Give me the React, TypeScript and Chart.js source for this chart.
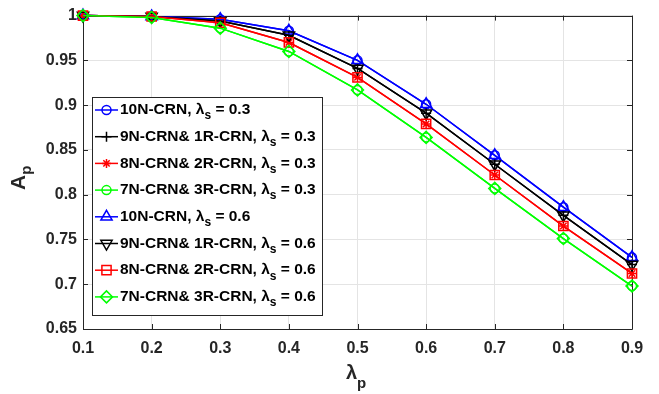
import React, { useEffect, useRef } from "react";
import { Chart, registerables } from "chart.js";
import { drawPoint } from "chart.js/helpers";

Chart.register(...registerables);

// ---- data ----
const lambdaP = [0.1, 0.2, 0.3, 0.4, 0.5, 0.6, 0.7, 0.8, 0.9];
const xTickValues = [0.1, 0.2, 0.3, 0.4, 0.5, 0.6, 0.7, 0.8, 0.9];
const yTickValues = [0.65, 0.7, 0.75, 0.8, 0.85, 0.9, 0.95, 1];

const ap10N_ls03 = [1.0, 0.999, 0.996, 0.983, 0.95, 0.901, 0.844, 0.786, 0.73];
const ap9N1R_ls03 = [1.0, 0.999, 0.994, 0.978, 0.941, 0.891, 0.834, 0.777, 0.722];
const ap8N2R_ls03 = [1.0, 0.999, 0.992, 0.97, 0.931, 0.879, 0.822, 0.765, 0.712];
const ap7N3R_ls03 = [1.0, 0.998, 0.986, 0.96, 0.917, 0.864, 0.807, 0.751, 0.698];
const ap10N_ls06 = [1.0, 0.999, 0.996, 0.983, 0.95, 0.901, 0.844, 0.786, 0.73];
const ap9N1R_ls06 = [1.0, 0.999, 0.994, 0.978, 0.941, 0.891, 0.834, 0.777, 0.722];
const ap8N2R_ls06 = [1.0, 0.999, 0.992, 0.97, 0.931, 0.879, 0.822, 0.765, 0.712];
const ap7N3R_ls06 = [1.0, 0.998, 0.986, 0.96, 0.917, 0.864, 0.807, 0.751, 0.698];

const seriesNames = [
  "10N-CRN",
  "9N-CRN& 1R-CRN",
  "8N-CRN& 2R-CRN",
  "7N-CRN& 3R-CRN",
  "10N-CRN",
  "9N-CRN& 1R-CRN",
  "8N-CRN& 2R-CRN",
  "7N-CRN& 3R-CRN",
];
const lambdaSLabels = ["0.3", "0.3", "0.3", "0.3", "0.6", "0.6", "0.6", "0.6"];
const seriesValues = [
  ap10N_ls03, ap9N1R_ls03, ap8N2R_ls03, ap7N3R_ls03,
  ap10N_ls06, ap9N1R_ls06, ap8N2R_ls06, ap7N3R_ls06,
];

// ---- styles ----
const colors = ["#0000ff", "#000000", "#ff0000", "#00ff00", "#0000ff", "#000000", "#ff0000", "#00ff00"];
const markerStyles = ["circle", "cross", "star", "circle", "triangle", "triangle", "rect", "rectRot"];
const markerRotations = [0, 0, 0, 0, 0, 180, 0, 0];
const markerRadii = [4.5, 5, 4.5, 4.5, 6.5, 6.5, 6.5, 6];

const FONT = "'Liberation Sans', Arial, Helvetica, sans-serif";
const AXIS_COLOR = "#262626";

function fmt(v: number) {
  return String(Number(v.toFixed(2)));
}

function drawRich(ctx: CanvasRenderingContext2D, segs: [string, boolean][], x: number, y: number, size: number, subSize: number, subOff: number) {
  let cx = x;
  for (const [t, sub] of segs) {
    ctx.font = `bold ${sub ? subSize : size}px ${FONT}`;
    ctx.fillText(t, cx, sub ? y + subOff : y);
    cx += ctx.measureText(t).width;
  }
  return cx - x;
}

const boxPlugin = {
  id: "matlabBox",
  beforeDatasetsDraw(chart: any) {
    const { ctx, chartArea: a, scales } = chart;
    ctx.save();
    ctx.strokeStyle = AXIS_COLOR;
    ctx.lineWidth = 1;
    ctx.beginPath();
    ctx.rect(Math.round(a.left) + 0.5, Math.round(a.top) + 0.5, Math.round(a.right - a.left), Math.round(a.bottom - a.top));
    ctx.stroke();
    const tl = 5;
    ctx.beginPath();
    for (const v of yTickValues) {
      const y = Math.round(scales.y.getPixelForValue(v)) + 0.5;
      ctx.moveTo(a.left, y); ctx.lineTo(a.left + tl, y);
      ctx.moveTo(a.right, y); ctx.lineTo(a.right - tl, y);
    }
    for (const v of xTickValues) {
      const x = Math.round(scales.x.getPixelForValue(v)) + 0.5;
      ctx.moveTo(x, a.bottom); ctx.lineTo(x, a.bottom - tl);
      ctx.moveTo(x, a.top); ctx.lineTo(x, a.top + tl);
    }
    ctx.stroke();
    ctx.restore();
  },
  afterDraw(chart: any) {
    const { ctx } = chart;
    ctx.save();
    // axis titles
    ctx.fillStyle = AXIS_COLOR;
    ctx.textBaseline = "middle";
    ctx.textAlign = "left";
    // x title
    drawRich(ctx, [["λ", false], ["p", true]], 346, 373, 20, 15, 11);
    // y title rotated
    ctx.save();
    ctx.translate(19, 180);
    ctx.rotate(-Math.PI / 2);
    drawRich(ctx, [["A", false], ["p", true]], -10, 0, 21, 15, 8);
    ctx.restore();

    // legend
    const lx = 92.5, ly = 97.5, lw = 230, lh = 218;
    ctx.fillStyle = "#ffffff";
    ctx.fillRect(lx, ly, lw, lh);
    ctx.strokeStyle = AXIS_COLOR;
    ctx.lineWidth = 1;
    ctx.strokeRect(lx, ly, lw, lh);
    for (let i = 0; i < seriesNames.length; i++) {
      const y = 110 + i * 26.7;
      ctx.strokeStyle = colors[i];
      ctx.lineWidth = 1.5;
      ctx.beginPath();
      ctx.moveTo(95, y);
      ctx.lineTo(118, y);
      ctx.stroke();
      ctx.fillStyle = "rgba(0,0,0,0)";
      drawPoint(ctx, { pointStyle: markerStyles[i] as any, rotation: markerRotations[i], radius: markerRadii[i], borderWidth: 1.5 }, 106.5, y);
      ctx.fillStyle = "#000000";
      ctx.textBaseline = "middle";
      ctx.textAlign = "left";
      drawRich(ctx, [[seriesNames[i] + ", ", false], ["λ", false], ["s", true], [" = " + lambdaSLabels[i], false]], 120, y, 15.5, 12, 6);
    }
    ctx.restore();
  },
};

export default function App() {
  const canvasRef = useRef<HTMLCanvasElement | null>(null);

  useEffect(() => {
    const canvas = canvasRef.current;
    if (!canvas) return;
    const datasets = seriesValues.map((vals, i) => ({
      label: seriesNames[i] + ", λs = " + lambdaSLabels[i],
      data: lambdaP.map((x, j) => ({ x, y: vals[j] })),
      borderColor: colors[i],
      backgroundColor: "rgba(0,0,0,0)",
      borderWidth: 1.5,
      pointStyle: markerStyles[i] as any,
      pointRotation: markerRotations[i],
      pointRadius: markerRadii[i],
      pointBorderWidth: 1.5,
      pointBorderColor: colors[i],
      pointBackgroundColor: "rgba(0,0,0,0)",
      tension: 0,
      clip: false as any,
      order: seriesValues.length - 1 - i,
    }));
    const chart = new Chart(canvas, {
      type: "line",
      data: { datasets },
      options: {
        responsive: false,
        animation: false,
        devicePixelRatio: 1,
        layout: { padding: { left: 0, top: 15, right: 27, bottom: 0 } },
        plugins: { legend: { display: false }, tooltip: { enabled: false } },
        scales: {
          x: {
            type: "linear",
            min: 0.1,
            max: 0.9,
            afterFit: (s: any) => { s.height = 65; },
            afterBuildTicks: (s: any) => { s.ticks = xTickValues.map((v) => ({ value: v })); },
            ticks: {
              color: AXIS_COLOR,
              font: { family: FONT, size: 16, weight: "bold" },
              padding: 10,
              maxRotation: 0,
              autoSkip: false,
              callback: (v: any) => fmt(Number(v)),
            },
            grid: { color: "#e4e4e4", drawTicks: false, lineWidth: 1 },
            border: { display: false },
          },
          y: {
            type: "linear",
            min: 0.65,
            max: 1,
            afterFit: (s: any) => { s.width = 83; },
            afterBuildTicks: (s: any) => { s.ticks = yTickValues.map((v) => ({ value: v })); },
            ticks: {
              color: AXIS_COLOR,
              font: { family: FONT, size: 16, weight: "bold" },
              padding: 6,
              autoSkip: false,
              callback: (v: any) => fmt(Number(v)),
            },
            grid: { color: "#e4e4e4", drawTicks: false, lineWidth: 1 },
            border: { display: false },
          },
        },
      },
      plugins: [boxPlugin as any],
    });
    return () => chart.destroy();
  }, []);

  return (
    <div style={{ position: "absolute", left: 0, top: 0, width: 659, height: 394, background: "#ffffff" }}>
      <canvas ref={canvasRef} width={659} height={394} style={{ display: "block", width: 659, height: 394 }} />
    </div>
  );
}
